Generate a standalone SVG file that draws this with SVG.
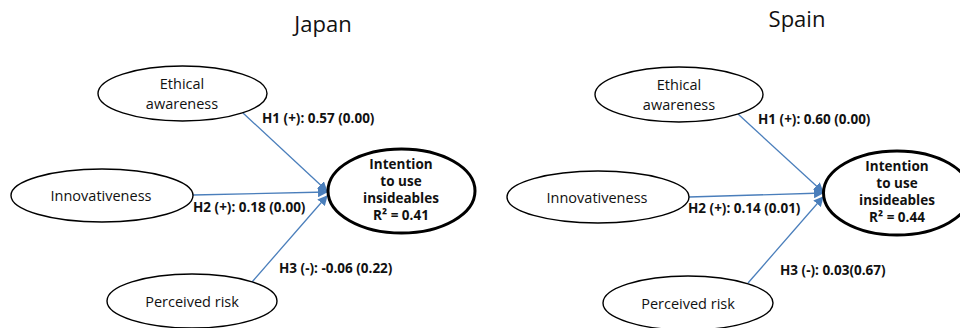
<svg xmlns="http://www.w3.org/2000/svg" width="960" height="328" viewBox="0 0 960 328">
<style>
.bg{fill:#ffffff}
.node{fill:#ffffff;stroke:#000000;stroke-width:1.4}
.dv{fill:#ffffff;stroke:#000000;stroke-width:3}
.title{font-family:"Open Sans","Liberation Sans",sans-serif;font-size:22px;fill:#111111;text-anchor:middle}
.nt{font-family:"Open Sans","Liberation Sans",sans-serif;font-size:14.5px;fill:#111111;text-anchor:middle}
.dt{font-family:"Open Sans","Liberation Sans",sans-serif;font-size:13.5px;font-weight:bold;fill:#111111;text-anchor:middle}
.lab{font-family:"Open Sans","Liberation Sans",sans-serif;font-size:13.5px;font-weight:bold;fill:#111111}
.edge{stroke:#4a7ebb;stroke-width:1.3;fill:none;marker-end:url(#ah)}
</style>
<defs>
<marker id="ah" markerUnits="userSpaceOnUse" markerWidth="10" markerHeight="10" viewBox="0 0 10 10" refX="9" refY="5" orient="auto">
<path d="M0,0 L10,5 L0,10 z" fill="#4a7ebb"/>
</marker>
</defs>
<rect class="bg" x="0" y="0" width="960" height="328"/>
<text class="title" x="323" y="32">Japan</text>
<text class="title" x="797" y="27">Spain</text>
<g id="connectors">
<line class="edge" x1="243" y1="113" x2="327" y2="191"/>
<line class="edge" x1="193" y1="195" x2="327" y2="192"/>
<line class="edge" x1="252" y1="282" x2="327" y2="196"/>
<line class="edge" x1="738" y1="114" x2="823" y2="192"/>
<line class="edge" x1="689" y1="197" x2="823" y2="193"/>
<line class="edge" x1="748" y1="283" x2="823" y2="197"/>
<text class="lab" x="262" y="123">H1 (+): 0.57 (0.00)</text>
<text class="lab" x="193" y="212">H2 (+): 0.18 (0.00)</text>
<text class="lab" x="279" y="273">H3 (-): -0.06 (0.22)</text>
<text class="lab" x="758" y="124">H1 (+): 0.60 (0.00)</text>
<text class="lab" x="688" y="213">H2 (+): 0.14 (0.01)</text>
<text class="lab" x="780" y="275">H3 (-): 0.03(0.67)</text>
</g>
<g id="jp-ethical">
<ellipse class="node" cx="182.5" cy="93.5" rx="84.5" ry="27.5"/>
<text class="nt" x="182" y="89">Ethical</text>
<text class="nt" x="182" y="109">awareness</text>
</g>
<g id="jp-innov">
<ellipse class="node" cx="102" cy="195.5" rx="91" ry="26.5"/>
<text class="nt" x="101" y="201">Innovativeness</text>
</g>
<g id="jp-risk">
<ellipse class="node" cx="192" cy="301" rx="85" ry="27"/>
<text class="nt" x="192" y="307">Perceived risk</text>
</g>
<g id="jp-intention">
<ellipse class="dv" cx="401.5" cy="191" rx="73.5" ry="42"/>
<text class="dt" x="401" y="169">Intention</text>
<text class="dt" x="401" y="186">to use</text>
<text class="dt" x="401" y="203">insideables</text>
<text class="dt" x="401" y="220">R² = 0.41</text>
</g>
<g id="es-ethical">
<ellipse class="node" cx="679" cy="94.5" rx="84" ry="27.5"/>
<text class="nt" x="679" y="90">Ethical</text>
<text class="nt" x="679" y="110">awareness</text>
</g>
<g id="es-innov">
<ellipse class="node" cx="598" cy="197" rx="91" ry="26"/>
<text class="nt" x="597" y="203">Innovativeness</text>
</g>
<g id="es-risk">
<ellipse class="node" cx="688" cy="303" rx="85" ry="27"/>
<text class="nt" x="688" y="309">Perceived risk</text>
</g>
<g id="es-intention">
<ellipse class="dv" cx="897" cy="193" rx="73.5" ry="42"/>
<text class="dt" x="897" y="171">Intention</text>
<text class="dt" x="897" y="188">to use</text>
<text class="dt" x="897" y="205">insideables</text>
<text class="dt" x="897" y="222">R² = 0.44</text>
</g>
</svg>
